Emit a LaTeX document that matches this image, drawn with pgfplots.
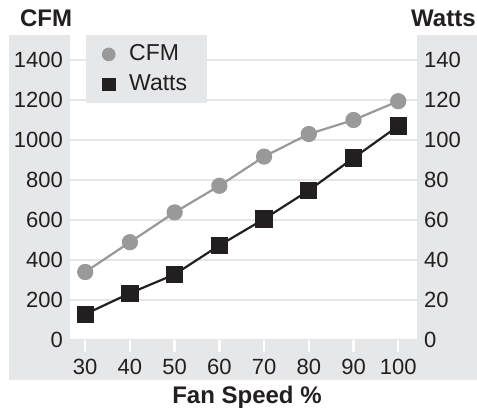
\documentclass[border=0pt]{standalone}
\usepackage{pgfplots}
\pgfplotsset{compat=1.18}
\usepackage{fontspec}
\setmainfont{Liberation Sans}
\definecolor{panel}{HTML}{E6E7E8}
\definecolor{gridc}{HTML}{E6E6E6}
\definecolor{ink}{HTML}{231F20}
\definecolor{cfmc}{HTML}{999999}
\begin{document}
\begin{tikzpicture}[font=\fontsize{11}{12}\selectfont, text=ink]
\useasboundingbox (-35pt,-36pt) rectangle (203.5pt,170pt);
\fill[panel] (-30.5pt,-20pt) rectangle (203.5pt,152.5pt);
\begin{axis}[
  at={(0,0)}, anchor=south west,
  scale only axis, width=173.5pt, height=152.5pt,
  xmin=26.6, xmax=104.2, ymin=0, ymax=1525,
  xtick={30,40,...,100}, ytick={0,200,...,1400},
  axis x line*=bottom, axis y line*=left,
  axis line style={draw=none},
  tick align=outside, major tick length=6pt,
  xtick style={white, line width=1.2pt},
  ytick style={draw=none},
  yticklabel style={xshift=6pt},
  ymajorgrids, grid style={gridc, line width=1pt},
  axis background/.style={fill=white},
  /pgf/number format/assume math mode=true,
  /pgf/number format/1000 sep={},
  ticklabel style={font=\fontsize{11}{12}\selectfont, text=ink},
]
\addplot[cfmc, line width=1.1pt, mark=*, mark size=3.5pt] coordinates {
  (30,340) (40,489) (50,638) (60,771) (70,917) (80,1030) (90,1100) (100,1194)
};
\end{axis}
\begin{axis}[
  at={(0,0)}, anchor=south west,
  scale only axis, width=173.5pt, height=152.5pt,
  xmin=26.6, xmax=104.2, ymin=0, ymax=152.5,
  hide x axis,
  axis y line*=right,
  axis line style={draw=none},
  ytick={0,20,...,140}, ytick style={draw=none},
  /pgf/number format/assume math mode=true,
  ticklabel style={font=\fontsize{11}{12}\selectfont, text=ink},
  legend style={at={(0.046,1)}, anchor=north west, draw=none, fill=panel,
    font=\fontsize{11.5}{13}\selectfont, text=ink, inner xsep=8pt, inner ysep=2pt,
    row sep=0pt, column sep=5pt,
    nodes={inner sep=2pt, text height=8.5pt, text depth=2.5pt}},
  legend cell align=left,
  legend image code/.code={\draw[#1] plot coordinates {(0pt,0pt)};},
]
\addlegendimage{only marks, mark=*, cfmc, mark size=3.2pt}
\addlegendentry{CFM}
\addlegendimage{only marks, mark=square*, ink, mark size=3.2pt}
\addlegendentry{Watts}
\addplot[ink, line width=1.1pt, mark=square*, mark size=3.75pt, forget plot] coordinates {
  (30,12.9) (40,23.4) (50,32.8) (60,47.3) (70,60.5) (80,74.8) (90,91) (100,107)
};
\end{axis}
\node[anchor=base west, font=\fontsize{12}{14}\selectfont\bfseries] at (-28.5pt,156.5pt) {CFM};
\node[anchor=base east, inner xsep=0.5pt, font=\fontsize{12}{14}\selectfont\bfseries] at (203.5pt,156.5pt) {Watts};
\node[anchor=base, font=\fontsize{12}{14}\selectfont\bfseries] at (88.5pt,-32pt) {Fan Speed \%};
\end{tikzpicture}
\end{document}
